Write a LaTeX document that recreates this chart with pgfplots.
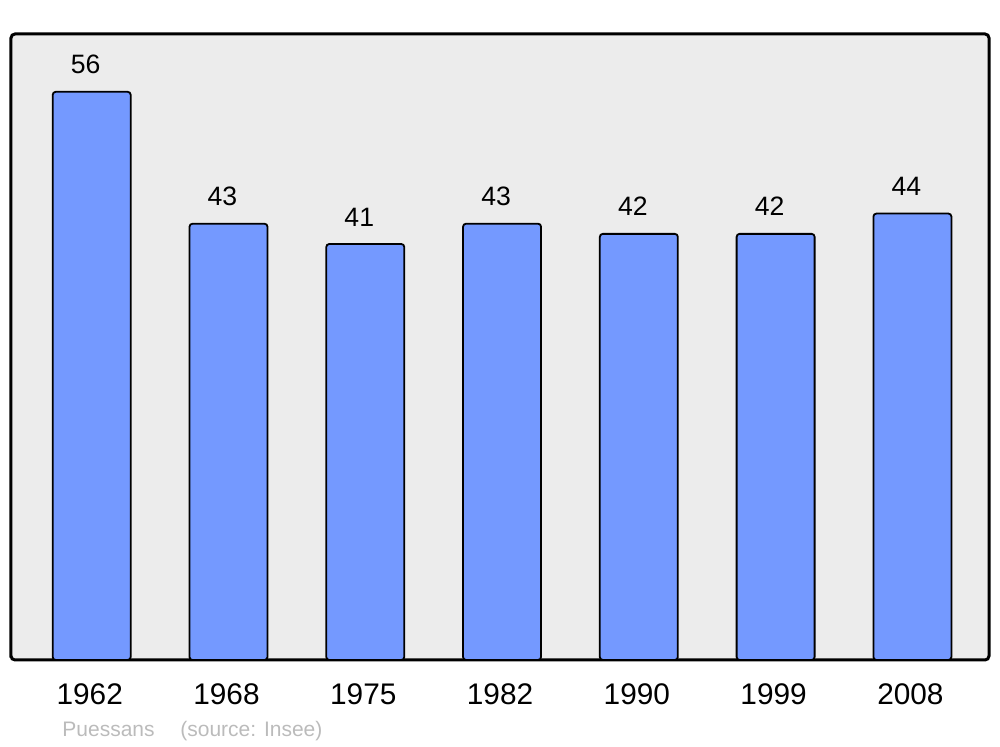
\documentclass[border=0pt]{standalone}
\usepackage{pgfplots}
\pgfplotsset{compat=1.18}
\usepackage{fontspec}
\setmainfont{Liberation Sans}
\definecolor{barblue}{HTML}{7499FF}
\definecolor{bgray}{HTML}{ECECEC}
\definecolor{srcgray}{HTML}{BBBBBB}
\begin{document}
\begin{tikzpicture}
\useasboundingbox (0,0) rectangle (500pt,373.5pt);
\begin{axis}[
  at={(5.5pt,43.5pt)}, anchor=south west,
  scale only axis, width=489pt, height=313pt,
  xmin=-0.59, xmax=6.56, ymin=0, ymax=61.7,
  axis background/.style={fill=bgray, rounded corners=2pt},
  axis line style={line width=1.5pt, rounded corners=2pt},
  ytick=\empty,
  xtick={0,1,2,3,4,5,6},
  xticklabels={1962,1968,1975,1982,1990,1999,2008},
  major tick length=0pt,
  xticklabel style={anchor=base, yshift=-22.5pt, xshift=-1pt, font=\fontsize{14.9pt}{17pt}\selectfont},
  /pgf/number format/assume math mode=true,
  ybar, bar width=39pt,
  nodes near coords,
  every node near coord/.style={anchor=base, yshift=9pt, xshift=-3pt, font=\fontsize{13.3pt}{15pt}\selectfont, text=black},
  clip=false,
]
\addplot[fill=barblue, draw=black, line width=0.9pt, rounded corners=1.5pt] coordinates {
(0,56) (1,43) (2,41) (3,43) (4,42) (5,42) (6,44)};
\end{axis}
\node[anchor=base west, inner sep=0pt, text=srcgray, font=\fontsize{10.5pt}{12pt}\selectfont] at (31pt,5pt) {Puessans};
\node[anchor=base west, inner sep=0pt, text=srcgray, font=\fontsize{10.5pt}{12pt}\selectfont] at (90pt,5pt) {(source: Insee)};
\end{tikzpicture}
\end{document}
